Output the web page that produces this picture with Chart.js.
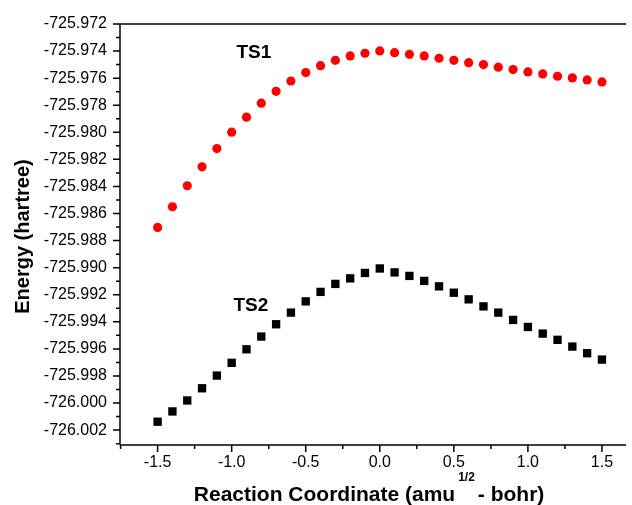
<!DOCTYPE html>
<html>
<head>
<meta charset="utf-8">
<script src="https://cdn.jsdelivr.net/npm/chart.js@4.4.1/dist/chart.umd.min.js"></script>
<style>
  html, body { margin: 0; padding: 0; background: #fff; }
</style>
</head>
<body>
<canvas id="chart" width="632" height="505"></canvas>
<script>
// ── data ──────────────────────────────────────────────────────────────
const coord = [-1.5, -1.4, -1.3, -1.2, -1.1, -1.0, -0.9, -0.8, -0.7, -0.6, -0.5, -0.4, -0.3, -0.2, -0.1,
               0.0, 0.1, 0.2, 0.3, 0.4, 0.5, 0.6, 0.7, 0.8, 0.9, 1.0, 1.1, 1.2, 1.3, 1.4, 1.5];

const ts1 = [-725.98703, -725.98550, -725.98395, -725.98255, -725.98120, -725.97999, -725.97888,
             -725.97785, -725.97697, -725.97621, -725.97559, -725.97508, -725.97468, -725.97436,
             -725.97416, -725.97399, -725.97412, -725.97424, -725.97436, -725.97453, -725.97468,
             -725.97486, -725.97500, -725.97519, -725.97537, -725.97554, -725.97569, -725.97586,
             -725.97598, -725.97613, -725.97628];

const ts2 = [-726.00138, -726.00062, -725.99981, -725.99891, -725.99797, -725.99703, -725.99603,
             -725.99509, -725.99418, -725.99332, -725.99249, -725.99179, -725.99120, -725.99079,
             -725.99039, -725.99006, -725.99035, -725.99061, -725.99098, -725.99138, -725.99185,
             -725.99234, -725.99286, -725.99332, -725.99386, -725.99438, -725.99487, -725.99533,
             -725.99583, -725.99632, -725.99679];

const xTicks = [-1.5, -1.0, -0.5, 0.0, 0.5, 1.0, 1.5];
const xMinor = [-1.75, -1.25, -0.75, -0.25, 0.25, 0.75, 1.25];
const yTicks = [-725.972, -725.974, -725.976, -725.978, -725.980, -725.982, -725.984, -725.986,
                -725.988, -725.990, -725.992, -725.994, -725.996, -725.998, -726.000, -726.002];
const yMinor = [-725.973, -725.975, -725.977, -725.979, -725.981, -725.983, -725.985, -725.987,
                -725.989, -725.991, -725.993, -725.995, -725.997, -725.999, -726.001, -726.003];

const curveLabels = [
  { text: "TS1", x: -0.85, y: -725.97414 },
  { text: "TS2", x: -0.87, y: -725.99280 },
];

const xTitle = ["Reaction Coordinate (amu", "1/2", "- bohr)"];
const yTitle = "Energy (hartree)";

const FONT = "'Liberation Sans', Arial, Helvetica, sans-serif";

// ── axes frame, ticks, titles, labels ─────────────────────────────────
const framePlugin = {
  id: "frame",
  afterDraw(chart) {
    const { ctx, chartArea: a, scales: { x, y } } = chart;
    ctx.save();
    ctx.strokeStyle = "#000";
    ctx.lineWidth = 1.5;
    ctx.beginPath();
    ctx.moveTo(a.left, a.top); ctx.lineTo(a.right, a.top);
    ctx.moveTo(a.left, a.top); ctx.lineTo(a.left, a.bottom);
    ctx.moveTo(a.left, a.bottom); ctx.lineTo(a.right, a.bottom);
    for (const v of xTicks) { const px = x.getPixelForValue(v); ctx.moveTo(px, a.bottom); ctx.lineTo(px, a.bottom + 7); }
    for (const v of xMinor) { const px = x.getPixelForValue(v); ctx.moveTo(px, a.bottom); ctx.lineTo(px, a.bottom + 4); }
    for (const v of yTicks) { const py = y.getPixelForValue(v); ctx.moveTo(a.left, py); ctx.lineTo(a.left - 7, py); }
    for (const v of yMinor) { const py = y.getPixelForValue(v); ctx.moveTo(a.left, py); ctx.lineTo(a.left - 4, py); }
    ctx.stroke();

    ctx.fillStyle = "#000";
    // curve labels
    ctx.font = `bold 19px ${FONT}`;
    ctx.textAlign = "center";
    ctx.textBaseline = "middle";
    for (const l of curveLabels) ctx.fillText(l.text, x.getPixelForValue(l.x), y.getPixelForValue(l.y));

    // x title with superscript
    ctx.textAlign = "left";
    ctx.textBaseline = "alphabetic";
    const big = `bold 21px ${FONT}`, small = `bold 12px ${FONT}`;
    ctx.font = big;  const w1 = ctx.measureText(xTitle[0]).width, w3 = ctx.measureText(xTitle[2]).width;
    ctx.font = small; const w2 = ctx.measureText(xTitle[1]).width;
    let tx = (a.left + a.right) / 2 - 4 - (w1 + w2 + w3 + 6) / 2;
    const base = a.bottom + 56;
    ctx.font = big;   ctx.fillText(xTitle[0], tx, base); tx += w1 + 3;
    ctx.font = small; ctx.fillText(xTitle[1], tx, base - 20); tx += w2 + 3;
    ctx.font = big;   ctx.fillText(xTitle[2], tx, base);

    // y title
    ctx.translate(29, (a.top + a.bottom) / 2 + 2);
    ctx.rotate(-Math.PI / 2);
    ctx.font = `bold 20px ${FONT}`;
    ctx.textAlign = "center";
    ctx.fillText(yTitle, 0, 0);
    ctx.restore();
  },
};

new Chart(document.getElementById("chart").getContext("2d"), {
  type: "scatter",
  data: {
    datasets: [
      { label: "TS1", data: coord.map((c, i) => ({ x: c, y: ts1[i] })),
        pointStyle: "circle", pointRadius: 4.6, backgroundColor: "#ff0000", borderWidth: 0 },
      { label: "TS2", data: coord.map((c, i) => ({ x: c, y: ts2[i] })),
        pointStyle: "rect", pointRadius: 5.9, backgroundColor: "#000000", borderWidth: 0 },
    ],
  },
  options: {
    responsive: false, animation: false,
    layout: { padding: { top: 24, right: 0, bottom: 0, left: 0 } },
    plugins: { legend: { display: false }, tooltip: { enabled: false } },
    scales: {
      x: {
        type: "linear", min: -1.754, max: 1.663,
        grid: { display: false }, border: { display: false },
        afterBuildTicks: s => { s.ticks = xTicks.map(v => ({ value: v })); },
        afterFit: s => { s.height = 60; },
        ticks: { padding: 0, color: "#000", font: { family: FONT, size: 16 }, maxRotation: 0,
                 callback: v => Number(v).toFixed(1) },
      },
      y: {
        type: "linear", min: -726.0031, max: -725.972,
        grid: { display: false }, border: { display: false },
        afterBuildTicks: s => { s.ticks = yTicks.map(v => ({ value: v })); },
        afterFit: s => { s.width = 120; },
        ticks: { padding: 5, color: "#000", font: { family: FONT, size: 16 },
                 callback: v => Number(v).toFixed(3) },
      },
    },
  },
  plugins: [framePlugin],
});
</script>
</body>
</html>
